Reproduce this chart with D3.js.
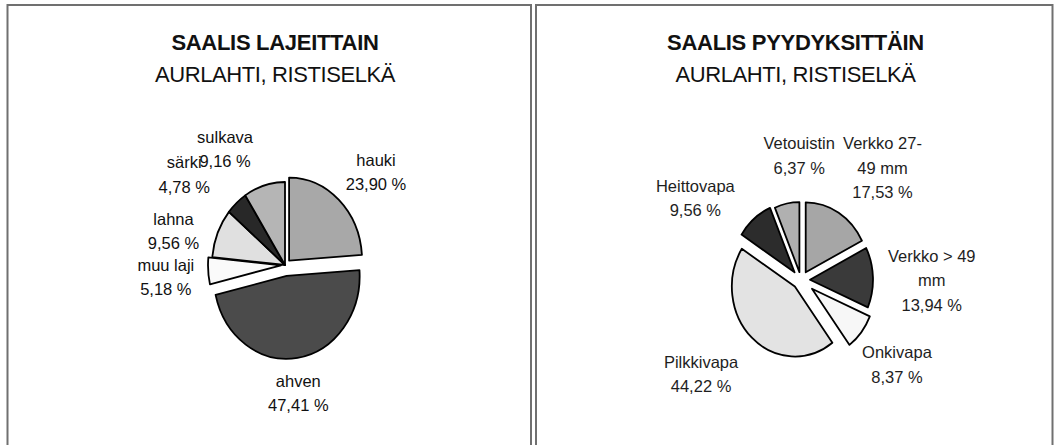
<!DOCTYPE html>
<html>
<head>
<meta charset="utf-8">
<script src="https://cdn.jsdelivr.net/npm/d3@7"></script>
<style>
  body { margin: 0; background: #fff; }
  svg { display: block; font-family: "Liberation Sans", Arial, sans-serif; }
</style>
</head>
<body>
<svg id="chart" width="1058" height="445"></svg>
<script>
// data - left pie (saalis lajeittain)
var lajiNames  = ["hauki", "ahven", "muu laji", "lahna", "särki", "sulkava"];
var lajiValues = [23.90, 47.41, 5.18, 9.56, 4.78, 9.16];

// data - right pie (saalis pyydyksittäin), "\n" = line break in label
var pyydysNames  = ["Verkko 27-\n49 mm", "Verkko > 49\nmm", "Onkivapa", "Pilkkivapa", "Heittovapa", "Vetouistin"];
var pyydysValues = [17.53, 13.94, 8.37, 44.22, 9.56, 6.37];

var titles    = ["SAALIS LAJEITTAIN", "SAALIS PYYDYKSITTÄIN"];
var subtitles = ["AURLAHTI, RISTISELKÄ", "AURLAHTI, RISTISELKÄ"];

var svg = d3.select("#chart");

// panel settings (label nudges = manual label drags, like in the original)
var panels = [
  { x: 7.5, w: 523.5, cx: 275, names: lajiNames, values: lajiValues,
    pie: { cx: 285, cy: 265, rx: 73, ry: 83 },
    explode: [6, 11, 4, 0, 0, 0],
    fills: ["#a8a8a8", "#4b4b4b", "#fafafa", "#e0e0e0", "#282828", "#b5b5b5"],
    nudge: [[11, -5], [-5, 4], [-6, 4], [-13, 10], [-30, -5], [-29, -6]],
    textColor: "#111" },
  { x: 536, w: 516.5, cx: 795.5, names: pyydysNames, values: pyydysValues,
    pie: { cx: 801, cy: 280, rx: 63, ry: 70 },
    explode: [9, 9, 14, 9, 10, 8],
    fills: ["#a6a6a6", "#3a3a3a", "#f7f7f7", "#e3e3e3", "#2c2c2c", "#b0b0b0"],
    nudge: [[19, -8], [7, 4], [2, 13], [-20, 13], [-28, 3], [21, -17]],
    textColor: "#1e1e1e" }
];

var fmt = d3.format(".2f");
function pct(v) { return fmt(v).replace(".", ",") + " %"; }

var lineH = 24.5;

panels.forEach(function(p, i) {
  var g = svg.append("g");

  g.append("rect")
    .attr("x", p.x).attr("y", 5)
    .attr("width", p.w).attr("height", 460)
    .attr("fill", "none")
    .attr("stroke", "#707070")
    .attr("stroke-width", 2);

  g.append("text")
    .attr("x", p.cx).attr("y", 50)
    .attr("text-anchor", "middle")
    .attr("font-size", 22).attr("font-weight", "bold")
    .attr("letter-spacing", -0.3)
    .attr("fill", "#111")
    .text(titles[i]);

  g.append("text")
    .attr("x", p.cx).attr("y", 82)
    .attr("text-anchor", "middle")
    .attr("font-size", 22)
    .attr("letter-spacing", -0.4)
    .attr("fill", "#111")
    .text(subtitles[i]);

  var pie = d3.pie().sort(null).startAngle(0).endAngle(2 * Math.PI);
  var arcs = pie(p.values);
  var arc = d3.arc().innerRadius(0).outerRadius(100);

  var slices = g.selectAll("g.slice")
    .data(arcs)
    .enter()
    .append("g")
    .attr("class", "slice")
    .attr("transform", function(d, j) {
      var a = (d.startAngle + d.endAngle) / 2;
      var e = p.explode[j];
      var dx = Math.sin(a) * e, dy = -Math.cos(a) * e;
      return "translate(" + (p.pie.cx + dx) + "," + (p.pie.cy + dy) + ") scale(" + (p.pie.rx / 100) + "," + (p.pie.ry / 100) + ")";
    });

  slices.append("path")
    .attr("d", arc)
    .attr("fill", function(d, j) { return p.fills[j]; })
    .attr("stroke", "#000")
    .attr("stroke-width", 1.8)
    .attr("stroke-linejoin", "round")
    .attr("vector-effect", "non-scaling-stroke");

  // labels: outside, at slice bisector, box pushed away from pie edge
  arcs.forEach(function(d, j) {
    var a = (d.startAngle + d.endAngle) / 2;
    var lines = p.names[j].split("\n").concat([pct(p.values[j])]);
    var t = g.append("text")
      .attr("text-anchor", "middle")
      .attr("font-size", 16.5)
      .attr("fill", p.textColor);
    lines.forEach(function(s) { t.append("tspan").text(s); });

    var hw = d3.max(t.selectAll("tspan").nodes(), function(n) { return n.getComputedTextLength(); }) / 2;
    var hh = lines.length * 23.5 / 2;
    var e = p.explode[j] + 8;
    var lx = p.pie.cx + Math.sin(a) * (p.pie.rx + e + hw) + p.nudge[j][0];
    var ly = p.pie.cy - Math.cos(a) * (p.pie.ry + e + hh) + p.nudge[j][1];

    t.selectAll("tspan")
      .attr("x", lx)
      .attr("y", function(s, k) { return ly + 6 + (k - (lines.length - 1) / 2) * lineH; });
  });
});
</script>
</body>
</html>
